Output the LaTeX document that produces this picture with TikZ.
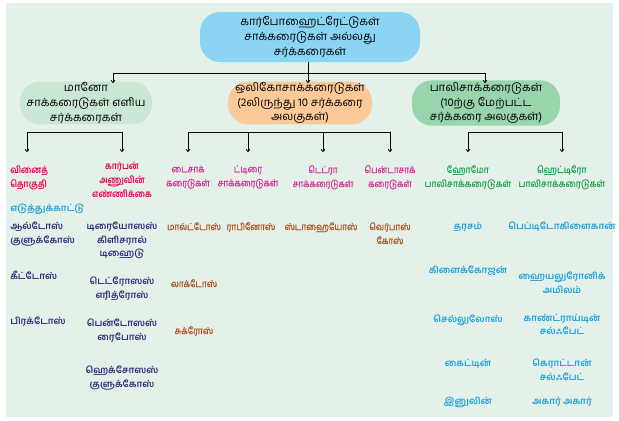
\documentclass[tikz,border=0pt]{standalone}
\usepackage{fontspec}
\usepackage{xcolor}
\usepackage{tikz}
\usetikzlibrary{arrows.meta}
\newfontfamily\tamil[Script=Tamil]{Hind Madurai}
\newfontfamily\tamilnarrow[Script=Tamil,FakeStretch=0.86]{Hind Madurai}
\newfontfamily\tamilmid[Script=Tamil,FakeStretch=0.86,FakeBold=0.8]{Hind Madurai}
\definecolor{bgmint}{RGB}{227,241,233}
\definecolor{topblue}{RGB}{140,212,244}
\definecolor{monogreen}{RGB}{202,231,213}
\definecolor{oligopeach}{RGB}{252,202,152}
\definecolor{polygreen}{RGB}{152,212,172}
\definecolor{headred}{RGB}{228,0,78}
\definecolor{headpink}{RGB}{214,52,150}
\definecolor{headgreen}{RGB}{28,160,78}
\definecolor{itemblue}{RGB}{42,46,122}
\definecolor{itembrown}{RGB}{172,82,34}
\definecolor{itemcyan}{RGB}{28,160,222}

\begin{document}
\begin{tikzpicture}[x=0.75pt,y=-0.75pt,
  sugarbox/.style={rounded corners=15pt,align=center,inner sep=0pt,font=\tamil\fontsize{8.5}{11}\selectfont},
  headlbl/.style={align=center,inner sep=0pt,font=\tamilnarrow\bfseries\fontsize{7.2}{10.5}\selectfont},
  lightlbl/.style={align=center,inner sep=0pt,font=\tamilmid\fontsize{7.2}{10.5}\selectfont},
  itemlbl/.style={align=center,inner sep=0pt,font=\tamil\bfseries\fontsize{7}{10}\selectfont},
  link/.style={line width=0.6pt},
  tip/.style={line width=0.6pt,-{To[length=2.2pt,width=3.2pt]}}]
% Draw the background
\fill[bgmint] (6,3) rectangle (613,417);
\useasboundingbox (0,0) rectangle (619,421);
% Draw the four rounded boxes
\node[sugarbox,fill=topblue,minimum width=165pt,minimum height=37.5pt] (carb) at (310,37) {கார்போஹைட்ரேட்டுகள்\\சாக்கரைடுகள் அல்லது\\சர்க்கரைகள்};
\node[sugarbox,fill=monogreen,minimum width=99pt,minimum height=32pt] (mono) at (86,103) {மானோ\\சாக்கரைடுகள் எளிய\\சர்க்கரைகள்};
\node[sugarbox,fill=oligopeach,minimum width=108pt,minimum height=32pt] (oligo) at (300,103) {ஒலிகோசாக்கரைடுகள்\\(2லிருந்து 10 சர்க்கரை\\அலகுகள்)};
\node[sugarbox,fill=polygreen,minimum width=111pt,minimum height=34pt] (poly) at (486,103) {பாலிசாக்கரைடுகள்\\(10ற்கு மேற்பட்ட\\சர்க்கரை அலகுகள்)};
% Draw the top branching
\coordinate (hub) at (308,73);
\coordinate (aMono) at (113,83);
\coordinate (aOligo) at (308,83);
\coordinate (aPoly) at (485,83);
\draw[link] (carb.south -| hub) -- (hub);
\draw[link] (aMono |- hub) -- (aPoly |- hub);
\draw[tip] (aMono |- hub) -- (aMono);
\draw[tip] (hub) -- (aOligo);
\draw[tip] (aPoly |- hub) -- (aPoly);
% Draw the second branchings
\coordinate (m1) at (27,132);
\coordinate (m2) at (122,132);
\coordinate (o1) at (188,132);
\coordinate (o2) at (248,132);
\coordinate (o3) at (323,132);
\coordinate (o4) at (390,132);
\coordinate (p1) at (468,132);
\coordinate (p2) at (562,132);
\draw[link] (m1) -- (m2);
\draw[link] (o1) -- (o4);
\draw[link] (p1) -- (p2);
\foreach \c in {m1,m2,o1,o2,o3,o4,p1,p2}
  \draw[tip] (\c) -- ++(0,20);
% Column headings
\node[headlbl,text=headred,anchor=north west,align=left] (hGroup) at (10,166) {வினைத்\\தொகுதி};
\node[headlbl,text=headred,anchor=north] (hCarbon) at (122,162) {கார்பன்\\அணுவின்\\எண்ணிக்கை};
\node[lightlbl,text=headpink,anchor=north] (hDi) at (188,165) {டைசாக்\\கரைடுகள்};
\node[lightlbl,text=headpink,anchor=north] (hTri) at (248,165) {ட்டிரை\\சாக்கரைடுகள்};
\node[lightlbl,text=headpink,anchor=north] (hTetra) at (323,165) {டெட்ரா\\சாக்கரைடுகள்};
\node[lightlbl,text=headpink,anchor=north] (hPenta) at (390,165) {பென்டாசாக்\\கரைடுகள்};
\node[headlbl,text=headgreen,anchor=north] (hHomo) at (468,165) {ஹோமோ\\பாலிசாக்கரைடுகள்};
\node[headlbl,text=headgreen,anchor=north] (hHetero) at (562,165) {ஹெட்டிரோ\\பாலிசாக்கரைடுகள்};
% Example label
\node[itemlbl,text=itemcyan,anchor=north west] (example) at (10,204) {எடுத்துக்காட்டு};
% Monosaccharide examples
\node[itemlbl,text=itemblue,anchor=north west,align=left] (aldose) at (10,222) {ஆல்டோஸ்\\குளுக்கோஸ்};
\node[itemlbl,text=itemblue,anchor=north west] (ketose) at (10,271) {கீட்டோஸ்};
\node[itemlbl,text=itemblue,anchor=north west] (fructose) at (10,317) {பிரக்டோஸ்};
\node[itemlbl,text=itemblue,anchor=north] (triose) at (122,222) {டிரையோஸஸ்\\கிளிசரால்\\டிஹைடு};
\node[itemlbl,text=itemblue,anchor=north] (tetrose) at (122,277) {டெட்ரோஸஸ்\\எரித்ரோஸ்};
\node[itemlbl,text=itemblue,anchor=north] (pentose) at (122,319) {பென்டோஸஸ்\\ரைபோஸ்};
\node[itemlbl,text=itemblue,anchor=north] (hexose) at (122,366) {ஹெக்சோஸஸ்\\குளுக்கோஸ்};
% Oligosaccharide examples
\node[lightlbl,text=itembrown,anchor=north] (maltose) at (194,222) {மால்ட்டோஸ்};
\node[lightlbl,text=itembrown,anchor=north] (lactose) at (194,279) {லாக்டோஸ்};
\node[lightlbl,text=itembrown,anchor=north] (sucrose) at (194,326) {சுக்ரோஸ்};
\node[lightlbl,text=itembrown,anchor=north] (raffinose) at (251,222) {ராபினோஸ்};
\node[lightlbl,text=itembrown,anchor=north] (stachyose) at (321,222) {ஸ்டாஹையோஸ்};
\node[lightlbl,text=itembrown,anchor=north] (verbascose) at (390,222) {வெர்பாஸ்\\கோஸ்};
% Polysaccharide examples
\node[itemlbl,text=itemcyan,anchor=north] (starch) at (468,222) {தரசம்};
\node[itemlbl,text=itemcyan,anchor=north] (glycogen) at (468,266) {கிளைக்கோஜன்};
\node[itemlbl,text=itemcyan,anchor=north] (cellulose) at (468,315) {செல்லுலோஸ்};
\node[itemlbl,text=itemcyan,anchor=north] (chitin) at (468,359) {கைட்டின்};
\node[itemlbl,text=itemcyan,anchor=north] (inulin) at (468,397) {இனுலின்};
\node[itemlbl,text=itemcyan,anchor=north] (peptido) at (562,222) {பெப்டிடோகிளைகான்};
\node[itemlbl,text=itemcyan,anchor=north] (hyaluronic) at (562,272) {ஹையலுரோனிக்\\அமிலம்};
\node[itemlbl,text=itemcyan,anchor=north] (chondroitin) at (562,314) {காண்ட்ராய்டின்\\சல்ஃபேட்};
\node[itemlbl,text=itemcyan,anchor=north] (keratan) at (562,359) {கெராட்டான்\\சல்ஃபேட்};
\node[itemlbl,text=itemcyan,anchor=north] (agar) at (562,397) {அகார் அகார்};
\end{tikzpicture}
\end{document}
